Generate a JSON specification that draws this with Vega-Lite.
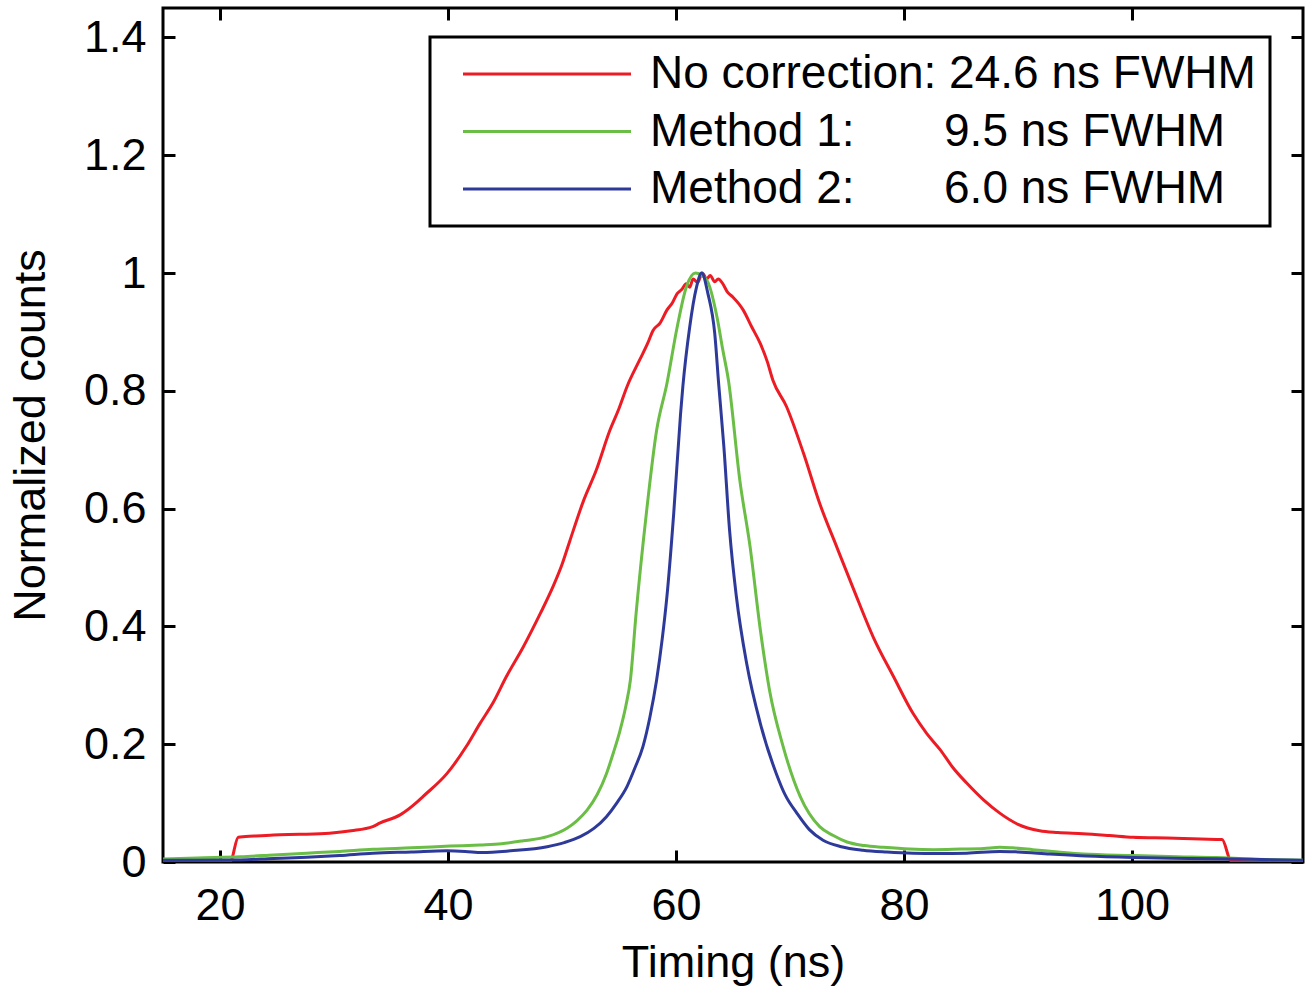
{
  "$schema": "https://vega.github.io/schema/vega-lite/v6.json",
  "width": 1140,
  "height": 854,
  "autosize": {"type": "none"},
  "padding": {"left": 163, "top": 8, "right": 10, "bottom": 131},
  "background": "white",
  "config": {
    "view": {"stroke": "black", "strokeWidth": 3},
    "font": "Liberation Sans",
    "axis": {"grid": false, "domain": false, "tickColor": "black", "tickWidth": 3, "tickSize": -12, "labelColor": "black", "labelFont": "Liberation Sans", "labelFontSize": 45, "titleFont": "Liberation Sans", "titleFontSize": 45, "titleFontWeight": "normal", "titleColor": "black", "labelFlush": false, "labelOverlap": false},
    "legend": {"strokeWidth": 3}
  },
  "data": {"values": [
    {"t":15,"v":0.001,"s":"No correction"},{"t":20.9,"v":0.001,"s":"No correction"},{"t":21.6,"v":0.042,"s":"No correction"},{"t":23,"v":0.044,"s":"No correction"},{"t":24.7,"v":0.046,"s":"No correction"},{"t":27,"v":0.047,"s":"No correction"},{"t":29.6,"v":0.049,"s":"No correction"},{"t":31.5,"v":0.053,"s":"No correction"},{"t":33.4,"v":0.06,"s":"No correction"},{"t":34,"v":0.066,"s":"No correction"},{"t":35.8,"v":0.08,"s":"No correction"},{"t":37.3,"v":0.102,"s":"No correction"},{"t":37.8,"v":0.111,"s":"No correction"},{"t":39.9,"v":0.15,"s":"No correction"},{"t":41.6,"v":0.196,"s":"No correction"},{"t":42.8,"v":0.235,"s":"No correction"},{"t":44,"v":0.272,"s":"No correction"},{"t":45.1,"v":0.314,"s":"No correction"},{"t":46.6,"v":0.365,"s":"No correction"},{"t":48.1,"v":0.422,"s":"No correction"},{"t":49.2,"v":0.467,"s":"No correction"},{"t":50,"v":0.505,"s":"No correction"},{"t":50.7,"v":0.546,"s":"No correction"},{"t":51.9,"v":0.614,"s":"No correction"},{"t":53,"v":0.665,"s":"No correction"},{"t":54.2,"v":0.733,"s":"No correction"},{"t":55,"v":0.77,"s":"No correction"},{"t":55.7,"v":0.807,"s":"No correction"},{"t":56.8,"v":0.852,"s":"No correction"},{"t":57.5,"v":0.88,"s":"No correction"},{"t":58,"v":0.903,"s":"No correction"},{"t":58.6,"v":0.915,"s":"No correction"},{"t":59.2,"v":0.937,"s":"No correction"},{"t":59.7,"v":0.95,"s":"No correction"},{"t":60.1,"v":0.965,"s":"No correction"},{"t":60.5,"v":0.972,"s":"No correction"},{"t":60.9,"v":0.982,"s":"No correction"},{"t":61.2,"v":0.976,"s":"No correction"},{"t":61.5,"v":0.99,"s":"No correction"},{"t":61.9,"v":0.984,"s":"No correction"},{"t":62.3,"v":1.0,"s":"No correction"},{"t":62.7,"v":0.99,"s":"No correction"},{"t":63,"v":0.996,"s":"No correction"},{"t":63.4,"v":0.985,"s":"No correction"},{"t":63.7,"v":0.99,"s":"No correction"},{"t":64.1,"v":0.982,"s":"No correction"},{"t":64.5,"v":0.968,"s":"No correction"},{"t":65,"v":0.959,"s":"No correction"},{"t":65.5,"v":0.948,"s":"No correction"},{"t":65.9,"v":0.937,"s":"No correction"},{"t":66.6,"v":0.91,"s":"No correction"},{"t":67.4,"v":0.88,"s":"No correction"},{"t":68,"v":0.85,"s":"No correction"},{"t":68.5,"v":0.818,"s":"No correction"},{"t":69.7,"v":0.773,"s":"No correction"},{"t":71.2,"v":0.693,"s":"No correction"},{"t":72.6,"v":0.609,"s":"No correction"},{"t":74.1,"v":0.535,"s":"No correction"},{"t":75.6,"v":0.462,"s":"No correction"},{"t":77.3,"v":0.382,"s":"No correction"},{"t":79.1,"v":0.314,"s":"No correction"},{"t":80.8,"v":0.252,"s":"No correction"},{"t":82,"v":0.218,"s":"No correction"},{"t":83.2,"v":0.19,"s":"No correction"},{"t":84.3,"v":0.16,"s":"No correction"},{"t":85.5,"v":0.134,"s":"No correction"},{"t":87,"v":0.105,"s":"No correction"},{"t":88.4,"v":0.083,"s":"No correction"},{"t":90,"v":0.064,"s":"No correction"},{"t":91.9,"v":0.053,"s":"No correction"},{"t":93.5,"v":0.05,"s":"No correction"},{"t":95.7,"v":0.048,"s":"No correction"},{"t":98,"v":0.045,"s":"No correction"},{"t":100.1,"v":0.042,"s":"No correction"},{"t":102,"v":0.041,"s":"No correction"},{"t":104.5,"v":0.04,"s":"No correction"},{"t":106,"v":0.039,"s":"No correction"},{"t":107.9,"v":0.038,"s":"No correction"},{"t":108.7,"v":0.002,"s":"No correction"},{"t":115,"v":0.001,"s":"No correction"},
    {"t":15,"v":0.005,"s":"Method 1"},{"t":18,"v":0.007,"s":"Method 1"},{"t":21.8,"v":0.009,"s":"Method 1"},{"t":24.7,"v":0.012,"s":"Method 1"},{"t":27.6,"v":0.015,"s":"Method 1"},{"t":30.5,"v":0.018,"s":"Method 1"},{"t":33.4,"v":0.0215,"s":"Method 1"},{"t":36.8,"v":0.024,"s":"Method 1"},{"t":40.2,"v":0.027,"s":"Method 1"},{"t":42.8,"v":0.029,"s":"Method 1"},{"t":44.7,"v":0.031,"s":"Method 1"},{"t":46.6,"v":0.036,"s":"Method 1"},{"t":48.7,"v":0.043,"s":"Method 1"},{"t":50.4,"v":0.057,"s":"Method 1"},{"t":51.3,"v":0.07,"s":"Method 1"},{"t":52.2,"v":0.088,"s":"Method 1"},{"t":53.1,"v":0.115,"s":"Method 1"},{"t":53.9,"v":0.15,"s":"Method 1"},{"t":54.5,"v":0.185,"s":"Method 1"},{"t":55.1,"v":0.224,"s":"Method 1"},{"t":55.6,"v":0.265,"s":"Method 1"},{"t":56,"v":0.309,"s":"Method 1"},{"t":56.5,"v":0.422,"s":"Method 1"},{"t":57.4,"v":0.592,"s":"Method 1"},{"t":58.3,"v":0.733,"s":"Method 1"},{"t":59.2,"v":0.812,"s":"Method 1"},{"t":60.1,"v":0.908,"s":"Method 1"},{"t":60.9,"v":0.976,"s":"Method 1"},{"t":61.7,"v":1.0,"s":"Method 1"},{"t":62.7,"v":0.988,"s":"Method 1"},{"t":63.6,"v":0.925,"s":"Method 1"},{"t":64.1,"v":0.87,"s":"Method 1"},{"t":64.6,"v":0.818,"s":"Method 1"},{"t":65.6,"v":0.648,"s":"Method 1"},{"t":66.5,"v":0.535,"s":"Method 1"},{"t":67.4,"v":0.394,"s":"Method 1"},{"t":68.2,"v":0.292,"s":"Method 1"},{"t":69.4,"v":0.196,"s":"Method 1"},{"t":70.9,"v":0.111,"s":"Method 1"},{"t":72.6,"v":0.06,"s":"Method 1"},{"t":73.8,"v":0.045,"s":"Method 1"},{"t":75,"v":0.034,"s":"Method 1"},{"t":76.5,"v":0.028,"s":"Method 1"},{"t":78.2,"v":0.025,"s":"Method 1"},{"t":80.5,"v":0.022,"s":"Method 1"},{"t":82.6,"v":0.021,"s":"Method 1"},{"t":85,"v":0.022,"s":"Method 1"},{"t":87,"v":0.023,"s":"Method 1"},{"t":88.4,"v":0.025,"s":"Method 1"},{"t":89.5,"v":0.024,"s":"Method 1"},{"t":91.3,"v":0.021,"s":"Method 1"},{"t":93.5,"v":0.017,"s":"Method 1"},{"t":95.7,"v":0.0135,"s":"Method 1"},{"t":100.1,"v":0.011,"s":"Method 1"},{"t":104,"v":0.009,"s":"Method 1"},{"t":107.4,"v":0.0075,"s":"Method 1"},{"t":110.4,"v":0.005,"s":"Method 1"},{"t":115,"v":0.003,"s":"Method 1"},
    {"t":15,"v":0.003,"s":"Method 2"},{"t":18,"v":0.003,"s":"Method 2"},{"t":21.8,"v":0.0035,"s":"Method 2"},{"t":24.7,"v":0.006,"s":"Method 2"},{"t":27.6,"v":0.008,"s":"Method 2"},{"t":30.5,"v":0.011,"s":"Method 2"},{"t":33.4,"v":0.015,"s":"Method 2"},{"t":36.8,"v":0.017,"s":"Method 2"},{"t":39.9,"v":0.019,"s":"Method 2"},{"t":41.5,"v":0.018,"s":"Method 2"},{"t":43,"v":0.016,"s":"Method 2"},{"t":45.5,"v":0.019,"s":"Method 2"},{"t":48.7,"v":0.026,"s":"Method 2"},{"t":50.2,"v":0.033,"s":"Method 2"},{"t":51.6,"v":0.043,"s":"Method 2"},{"t":52.8,"v":0.057,"s":"Method 2"},{"t":53.9,"v":0.077,"s":"Method 2"},{"t":54.8,"v":0.1,"s":"Method 2"},{"t":55.7,"v":0.128,"s":"Method 2"},{"t":56.4,"v":0.16,"s":"Method 2"},{"t":57.1,"v":0.196,"s":"Method 2"},{"t":57.7,"v":0.245,"s":"Method 2"},{"t":58.3,"v":0.309,"s":"Method 2"},{"t":58.8,"v":0.38,"s":"Method 2"},{"t":59.2,"v":0.45,"s":"Method 2"},{"t":59.8,"v":0.592,"s":"Method 2"},{"t":60.4,"v":0.761,"s":"Method 2"},{"t":60.6,"v":0.807,"s":"Method 2"},{"t":61.2,"v":0.908,"s":"Method 2"},{"t":61.8,"v":0.976,"s":"Method 2"},{"t":62.25,"v":1.0,"s":"Method 2"},{"t":62.8,"v":0.965,"s":"Method 2"},{"t":63.4,"v":0.897,"s":"Method 2"},{"t":63.75,"v":0.81,"s":"Method 2"},{"t":64.2,"v":0.705,"s":"Method 2"},{"t":64.7,"v":0.563,"s":"Method 2"},{"t":65.3,"v":0.45,"s":"Method 2"},{"t":66.2,"v":0.337,"s":"Method 2"},{"t":67.4,"v":0.235,"s":"Method 2"},{"t":68.8,"v":0.15,"s":"Method 2"},{"t":69.6,"v":0.113,"s":"Method 2"},{"t":70.6,"v":0.083,"s":"Method 2"},{"t":71.7,"v":0.055,"s":"Method 2"},{"t":72.9,"v":0.037,"s":"Method 2"},{"t":74.5,"v":0.026,"s":"Method 2"},{"t":76.4,"v":0.02,"s":"Method 2"},{"t":78.5,"v":0.017,"s":"Method 2"},{"t":80.8,"v":0.015,"s":"Method 2"},{"t":83,"v":0.0145,"s":"Method 2"},{"t":85.5,"v":0.015,"s":"Method 2"},{"t":88.4,"v":0.018,"s":"Method 2"},{"t":90,"v":0.017,"s":"Method 2"},{"t":92.8,"v":0.0135,"s":"Method 2"},{"t":96,"v":0.01,"s":"Method 2"},{"t":100.1,"v":0.0075,"s":"Method 2"},{"t":105,"v":0.006,"s":"Method 2"},{"t":110.4,"v":0.0045,"s":"Method 2"},{"t":115,"v":0.003,"s":"Method 2"}
  ]},
  "layer": [
    {
      "mark": {"type": "line", "strokeWidth": 3, "clip": true, "interpolate": "monotone"},
      "encoding": {
        "x": {"field": "t", "type": "quantitative", "scale": {"domain": [15, 115], "nice": false, "zero": false},
              "axis": {"orient": "bottom", "values": [20, 40, 60, 80, 100], "format": "d", "labelPadding": 33, "title": "Timing (ns)", "titlePadding": 12}},
        "y": {"field": "v", "type": "quantitative", "scale": {"domain": [0, 1.45], "nice": false, "zero": false},
              "axis": {"orient": "left", "values": [0, 0.2, 0.4, 0.6, 0.8, 1, 1.2, 1.4], "format": "~g", "labelPadding": 29, "title": "Normalized counts", "titlePadding": 30}},
        "color": {"field": "s", "type": "nominal",
                  "scale": {"domain": ["No correction", "Method 1", "Method 2"], "range": ["#ED1C24", "#6ABD45", "#2E3A9A"]},
                  "legend": {"orient": "none", "legendX": 267, "legendY": 29, "title": null,
                             "symbolType": "M-4,0H4", "symbolSize": 1764, "symbolStrokeWidth": 3, "symbolOffset": 80, "labelOffset": 80,
                             "labelFont": "Liberation Sans", "labelFontSize": 46, "labelColor": "black", "labelLimit": 0,
                             "rowPadding": 11.5, "padding": 14, "strokeColor": "black", "fillColor": "white",
                             "labelExpr": "datum.label == 'No correction' ? 'No correction: 24.6 ns FWHM\u00a0' : datum.label == 'Method 1' ? 'Method 1:\u00a0\u00a0\u00a0\u00a0\u00a0\u00a0\u00a0' + '9.5 ns FWHM' : 'Method 2:\u00a0\u00a0\u00a0\u00a0\u00a0\u00a0\u00a0' + '6.0 ns FWHM'"}}
      }
    },
    {
      "mark": {"type": "line", "opacity": 0},
      "encoding": {
        "x": {"field": "t", "type": "quantitative", "axis": {"orient": "top", "values": [20, 40, 60, 80, 100], "labels": false, "title": null}},
        "y": {"field": "v", "type": "quantitative", "axis": {"orient": "right", "values": [0, 0.2, 0.4, 0.6, 0.8, 1, 1.2, 1.4], "labels": false, "title": null}}
      }
    }
  ],
  "resolve": {"axis": {"x": "independent", "y": "independent"}}
}
